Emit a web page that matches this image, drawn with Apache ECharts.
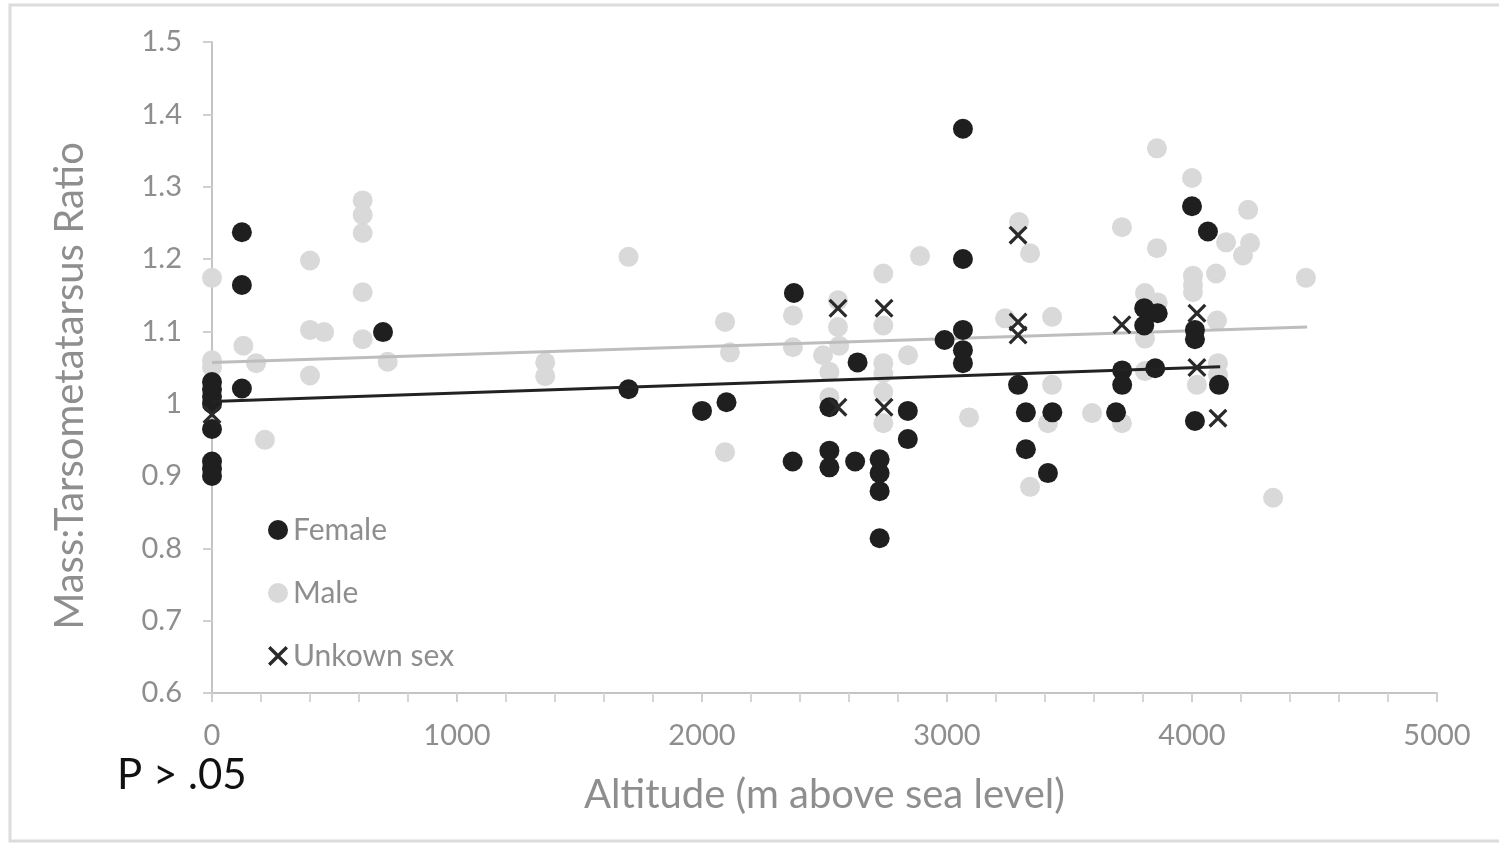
<!DOCTYPE html>
<html><head><meta charset="utf-8">
<script src="https://cdn.jsdelivr.net/npm/echarts@6/dist/echarts.min.js"></script>
<style>html,body{margin:0;padding:0;background:#fff}#c{width:1499px;height:843px}</style>
</head><body><div id="c"></div>
<script>
const femaleAlt = [0,0,0,0,0,0,0,0, 122,122,122, 698, 1700, 2000, 2100, 2375, 2370, 2520,2520,2520, 2625, 2635, 2725,2725,2725,2725, 2840,2840, 3065,3065,3065,3065,3065, 2990, 3290, 3322, 3430, 3322, 3412, 3715,3715,3690, 3805,3860,3805, 3850, 4000,4065, 4012,4012,4012, 4110];
const femaleRatio = [1.03,1.02,1.01,1.0,0.965,0.92,0.91,0.90, 1.237,1.164,1.021, 1.099, 1.02, 0.99, 1.002, 1.153, 0.92, 0.995,0.935,0.912, 0.92, 1.057, 0.923,0.904,0.879,0.814, 0.99,0.951, 1.38,1.2,1.102,1.074,1.056, 1.088, 1.026, 0.988, 0.988, 0.937, 0.904, 1.046,1.026,0.988, 1.132,1.125,1.108, 1.049, 1.273,1.238, 1.102,1.089,0.976, 1.026];
const maleAlt = [0,0,0, 128,180,216, 400,400,458,400, 615,615,615,615,615, 717, 1360,1360, 1700, 2094,2114,2094, 2371,2371, 2555,2555,2494,2520,2520,2560, 2740,2740,2740,2740,2740,2740, 2841, 2890, 3090, 3237, 3857, 4000, 4229, 3294, 3339, 3714, 3857, 4139,4237,4208, 4098, 4004,4004,4004, 4465, 3808,3860, 3429, 4102, 3808, 3429, 3592, 3412, 3714, 3339, 4331, 4106,4020,4106, 3808];
const maleRatio = [1.174,1.06,1.05, 1.08,1.056,0.95, 1.198,1.102,1.099,1.039, 1.281,1.261,1.236,1.154,1.089, 1.058, 1.057,1.038, 1.203, 1.113,1.071,0.933, 1.122,1.078, 1.143,1.106,1.067,1.044,1.009,1.08, 1.18,1.108,1.056,1.042,1.016,0.973, 1.067, 1.204, 0.981, 1.118, 1.353, 1.312, 1.268, 1.251, 1.208, 1.244, 1.215, 1.223,1.222,1.205, 1.18, 1.177,1.164,1.154, 1.174, 1.153,1.14, 1.12, 1.115, 1.09, 1.026, 0.987, 0.973, 0.973, 0.885, 0.87, 1.056,1.026,1.04, 1.045];
const unknownAlt = [0, 2555,2743, 2555,2743, 3290,3290,3290, 3714, 4020,4020, 4106];
const unknownRatio = [0.985, 1.132,1.132, 0.995,0.995, 1.233,1.113,1.095, 1.109, 1.125,1.05, 0.98];
const maleTrendAlt = [0, 4470];
const maleTrendRatio = [1.057, 1.106];
const femaleTrendAlt = [0, 4115];
const femaleTrendRatio = [1.003, 1.051];
const xTicks = [0,1000,2000,3000,4000,5000];
const yTicks = [0.6,0.7,0.8,0.9,1,1.1,1.2,1.3,1.4,1.5];
const seriesNames = ['Female','Male','Unkown sex'];

const zip = (a,b) => a.map((v,i)=>[v,b[i]]);
const FONT = 'Lato';
const GREY = '#8e8e8e';
const xPath = 'path://M0,1.2L1.2,0L5,3.8L8.8,0L10,1.2L6.2,5L10,8.8L8.8,10L5,6.2L1.2,10L0,8.8L3.8,5Z';

const chart = echarts.init(document.getElementById('c'));
chart.setOption({
  animation:false,
  backgroundColor:'#fff',
  textStyle:{fontFamily:FONT},
  grid:{left:212,right:62,top:42,bottom:150},
  xAxis:{type:'value',min:xTicks[0],max:xTicks[xTicks.length-1],interval:1000,
    splitLine:{show:false},
    axisLine:{lineStyle:{color:'#c4c4c4',width:2}},
    axisTick:{show:true,length:9,lineStyle:{color:'#cfcfcf',width:2}},
    minorTick:{show:true,splitNumber:5,length:9,lineStyle:{color:'#d6d6d6',width:2}},
    axisLabel:{color:GREY,fontSize:29,fontFamily:FONT,margin:28,formatter:v=>String(v)},
    name:'Altitude (m above sea level)',nameLocation:'middle',nameGap:82,
    nameTextStyle:{color:GREY,fontSize:40,fontFamily:FONT}},
  yAxis:{type:'value',min:yTicks[0],max:yTicks[yTicks.length-1],interval:0.1,
    splitLine:{show:false},
    axisLine:{show:true,lineStyle:{color:'#c4c4c4',width:2}},
    axisTick:{show:true,length:9,lineStyle:{color:'#cfcfcf',width:2}},
    axisLabel:{color:GREY,fontSize:29,fontFamily:FONT,margin:30,
      formatter:v=>String(Math.round(v*10)/10)}},
  legend:{orient:'vertical',left:263,top:510,itemGap:33,itemWidth:20,itemHeight:20,
    data:seriesNames,
    textStyle:{color:GREY,fontSize:30,fontFamily:FONT,padding:[0,0,0,0]}},
  graphic:[
    {type:'rect',shape:{x:10,y:5,width:1520,height:836},style:{fill:'none',stroke:'#dcdcdc',lineWidth:3},z:-10,silent:true},
    {type:'text',x:70,y:386,rotation:Math.PI/2,style:{text:'Mass:Tarsometatarsus Ratio',fill:GREY,font:'40px '+FONT,align:'center',verticalAlign:'middle'}},
    {type:'text',x:117,y:775,style:{text:'P > .05',fill:'#111',font:'42px '+FONT,align:'left',verticalAlign:'middle'}}
  ],
  series:[
    {name:'Male',type:'scatter',data:zip(maleAlt,maleRatio),symbol:'circle',symbolSize:20,
      itemStyle:{color:'#d9d9d9',opacity:1},z:2},
    {name:'Male trend',type:'line',data:zip(maleTrendAlt,maleTrendRatio),showSymbol:false,symbol:'none',
      lineStyle:{color:'#bdbdbd',width:3},z:3},
    {name:'Female',type:'scatter',data:zip(femaleAlt,femaleRatio),symbol:'circle',symbolSize:20,
      itemStyle:{color:'#1f1f1f',opacity:1},z:4},
    {name:'Female trend',type:'line',data:zip(femaleTrendAlt,femaleTrendRatio),showSymbol:false,symbol:'none',
      lineStyle:{color:'#222',width:3},z:5},
    {name:'Unkown sex',type:'scatter',data:zip(unknownAlt,unknownRatio),symbol:xPath,symbolSize:19,
      itemStyle:{color:'#2a2a2a',opacity:1},z:6}
  ]
});
</script></body></html>
